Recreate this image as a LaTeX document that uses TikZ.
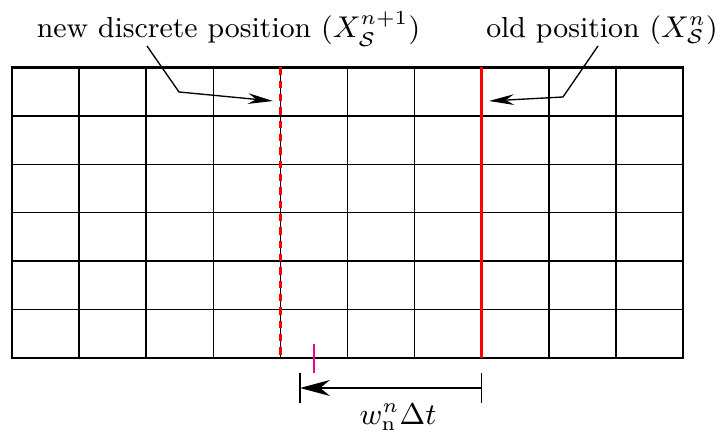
\documentclass[tikz,border=0pt]{standalone}
\usepackage{amsmath}
\usepackage{amssymb}
\usetikzlibrary{arrows.meta,calc}

\begin{document}
\begin{tikzpicture}[x=0.3pt, y=-0.3pt,
    lbl/.style={inner sep=0pt, anchor=base, font=\fontsize{8.7}{10}\selectfont},
    lead/.style={line width=0.4pt, -{Stealth[length=7.5pt,width=3.2pt]}},
    meshline/.style={line width=0.45pt},
    iface/.style={red, line width=0.85pt}]
    \useasboundingbox (0,0) rectangle (720,436);

    % fluid mesh
    \foreach \i in {1,...,9}
        \draw[meshline] ({12+67.1*\i},67.5) -- ({12+67.1*\i},358);
    \foreach \j in {1,...,5}
        \draw[meshline] (12,{67.5+48.42*\j}) -- (683,{67.5+48.42*\j});
    \draw[line width=0.85pt] (12,67.5) rectangle (683,358);

    % interface, new and old
    \coordinate (newtop) at (280.4,67.5);
    \coordinate (newbot) at (280.4,358);
    \coordinate (oldtop) at (481.7,67.5);
    \coordinate (oldbot) at (481.7,358);
    \draw[iface, dash pattern=on 2.2pt off 1.8pt] (newtop) -- (newbot);
    \draw[iface] (oldtop) -- (oldbot);

    % labels
    \node[lbl] (newpos) at (228.5,38) {new discrete position ($X_{\mathcal{S}}^{n+1}$)};
    \node[lbl] (oldpos) at (602,38) {old position ($X_{\mathcal{S}}^{n}$)};
    \coordinate (newbend) at (179,92);
    \coordinate (newtip) at (273,101);
    \coordinate (oldbend) at (563,97);
    \coordinate (oldtip) at (489,101);
    \draw[lead] ($(newpos.base)+(-81.5,8)$) -- (newbend) -- (newtip);
    \draw[lead] ($(oldpos.base)+(-4,8)$) -- (oldbend) -- (oldtip);

    % exact position
    \draw[magenta, line width=0.85pt] (314,344) -- (314,373);

    % displacement
    \coordinate (dimL) at (300,388);
    \coordinate (dimR) at (481.7,388);
    \draw[line width=0.4pt] ($(dimL)+(0,-15)$) -- ($(dimL)+(0,15)$);
    \draw[line width=0.4pt] ($(dimR)+(0,-15)$) -- ($(dimR)+(0,15)$);
    \draw[line width=0.4pt, -{Stealth[length=9pt,width=4.8pt]}] (dimR) -- (dimL);
    \node[lbl] (disp) at (398,425) {$w_{\mathrm{n}}^{n}\Delta t$};
\end{tikzpicture}
\end{document}
